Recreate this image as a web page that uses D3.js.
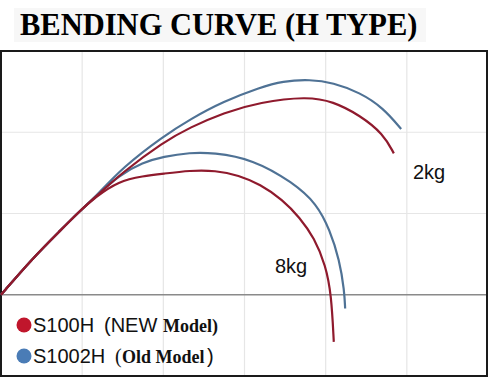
<!DOCTYPE html>
<html>
<head>
<meta charset="utf-8">
<script src="https://cdn.jsdelivr.net/npm/d3@7"></script>
<style>
  html, body { margin: 0; padding: 0; background: #fff; }
  svg { display: block; }
</style>
</head>
<body>
<div id="chart"></div>
<script>
// --- Data (grid units: x 0..6, y -1..3, one grid cell = 1) ---
const trunk = [[0, 0], [0.39, 0.45], [0.73, 0.79], [0.97, 1.03], [1.16, 1.2]];

const red2kg = [[1.5, 1.51], [2.0, 1.88], [2.33, 2.06], [2.74, 2.24], [3.19, 2.37],
  [3.77, 2.44], [4.09, 2.38], [4.42, 2.21], [4.71, 1.98], [4.84, 1.74]];
const blue2kg = [[1.5, 1.57], [2.0, 1.95], [2.33, 2.16], [2.74, 2.38], [3.19, 2.55],
  [3.47, 2.63], [3.81, 2.65], [4.09, 2.61], [4.42, 2.49], [4.71, 2.3], [4.93, 2.04]];
const red8kg = [[1.45, 1.4], [1.75, 1.46], [2.0, 1.49], [2.33, 1.53], [2.64, 1.53], [2.93, 1.47],
  [3.19, 1.36], [3.47, 1.17], [3.68, 0.95], [3.86, 0.7], [4.0, 0.36], [4.07, 0.0], [4.1, -0.58]];
const blue8kg = [[1.45, 1.47], [1.75, 1.63], [2.0, 1.7], [2.33, 1.75], [2.61, 1.75],
  [3.1, 1.67], [3.6, 1.38], [3.89, 1.12], [4.05, 0.8], [4.17, 0.43], [4.23, 0.05], [4.24, -0.17]];

const xTicks = [1, 2, 3, 4, 5];
const yTicks = [1, 2];
const loadLabels = ["2kg", "8kg"];
const seriesNames = ["S100H", "S1002H"];

const W = 488, H = 382;
const red = "#8f1a2d", blue = "#4f7295";

const svg = d3.select("#chart").append("svg")
    .attr("width", W)
    .attr("height", H);

// --- Title ---
svg.append("rect")
    .attr("x", 14).attr("y", 8)
    .attr("width", 412).attr("height", 34)
    .attr("fill", "#f7f7f7");

svg.append("text")
    .attr("x", 20).attr("y", 35)
    .attr("font-family", "'Liberation Serif', 'Times New Roman', serif")
    .attr("font-weight", "bold")
    .attr("font-size", 30.5)
    .attr("fill", "#000")
    .text("BENDING CURVE (H TYPE)");

// --- Scales ---
const x = d3.scaleLinear().domain([0, 6]).range([1, 488]);
const y = d3.scaleLinear().domain([-1, 3]).range([376, 51]);

// grid
svg.append("g")
    .selectAll("line")
    .data(xTicks)
    .join("line")
    .attr("x1", d => x(d)).attr("x2", d => x(d))
    .attr("y1", y(3)).attr("y2", y(-1))
    .attr("stroke", "#e6e6e6")
    .attr("stroke-width", 1.2);

svg.append("g")
    .selectAll("line")
    .data(yTicks)
    .join("line")
    .attr("x1", x(0)).attr("x2", x(6))
    .attr("y1", d => y(d)).attr("y2", d => y(d))
    .attr("stroke", "#e6e6e6")
    .attr("stroke-width", 1.2);

// zero axis
svg.append("line")
    .attr("x1", x(0)).attr("x2", x(6))
    .attr("y1", y(0)).attr("y2", y(0))
    .attr("stroke", "#8a8a8a")
    .attr("stroke-width", 1.5);

// frame
svg.append("rect")
    .attr("x", x(0)).attr("y", y(3))
    .attr("width", x(6) - x(0) - 1)
    .attr("height", y(-1) - y(3))
    .attr("fill", "none")
    .attr("stroke", "#1a1a1a")
    .attr("stroke-width", 2);

// --- Curves ---
const line = d3.line()
    .x(d => x(d[0]))
    .y(d => y(d[1]))
    .curve(d3.curveBasis);

const curves = [
    { pts: trunk.concat(blue2kg), color: blue },
    { pts: trunk.concat(blue8kg), color: blue },
    { pts: trunk.concat(red2kg), color: red },
    { pts: trunk.concat(red8kg), color: red }
];

svg.append("g")
    .selectAll("path")
    .data(curves)
    .join("path")
    .attr("d", d => line(d.pts))
    .attr("fill", "none")
    .attr("stroke", d => d.color)
    .attr("stroke-width", 2.2)
    .attr("stroke-linecap", "butt");

// load labels
const sans = "'Liberation Sans', Arial, sans-serif";
const serif = "'Liberation Serif', 'Times New Roman', serif";

svg.append("text")
    .attr("x", 413).attr("y", 179)
    .attr("font-family", sans).attr("font-size", 20)
    .attr("fill", "#111")
    .text(loadLabels[0]);

svg.append("text")
    .attr("x", 275).attr("y", 273)
    .attr("font-family", sans).attr("font-size", 20)
    .attr("fill", "#111")
    .text(loadLabels[1]);

// --- Legend ---
svg.append("circle").attr("cx", 24).attr("cy", 325).attr("r", 7.5).attr("fill", "#c0162c");
svg.append("circle").attr("cx", 24).attr("cy", 356).attr("r", 7.5).attr("fill", "#4a7cb6");

const l1 = svg.append("text").attr("y", 332).attr("fill", "#111");
l1.append("tspan").attr("x", 33).attr("font-family", sans).attr("font-size", 20).text(seriesNames[0]);
l1.append("tspan").attr("x", 104).attr("font-family", sans).attr("font-size", 20).text("(NEW");
l1.append("tspan").attr("x", 163).attr("font-family", serif).attr("font-weight", "bold")
    .attr("font-size", 18).text("Model)");

const l2 = svg.append("text").attr("y", 363).attr("fill", "#111");
l2.append("tspan").attr("x", 33).attr("font-family", sans).attr("font-size", 20).text(seriesNames[1]);
l2.append("tspan").attr("x", 115).attr("font-family", serif).attr("font-size", 20).text("(");
l2.append("tspan").attr("x", 122).attr("font-family", serif).attr("font-weight", "bold")
    .attr("font-size", 18).text("Old Model");
l2.append("tspan").attr("x", 207).attr("font-family", sans).attr("font-size", 20).text(")");
</script>
</body>
</html>
